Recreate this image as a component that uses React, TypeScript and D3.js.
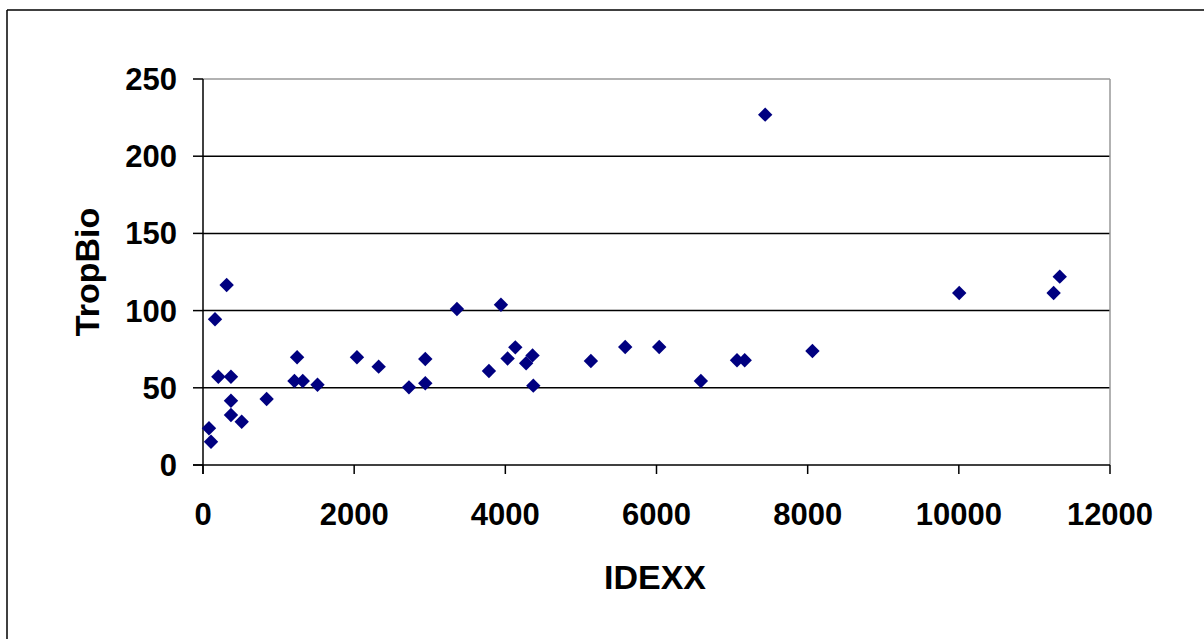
import React from "react";
import * as d3 from "d3";

const idexx = [79, 106, 159, 203, 313, 370, 370, 370, 512, 842, 1210, 1245, 1320, 1515, 2037, 2324, 2725, 2941, 2941, 3360, 3783, 3942, 4030, 4132, 4275, 4360, 4370, 5132, 5586, 6036, 6587, 7065, 7167, 7438, 8063, 10005, 11254, 11335];
const tropBio = [23.8, 15.1, 94.4, 57.2, 116.6, 57.2, 41.6, 32.4, 28, 42.7, 54.4, 69.8, 54.4, 52, 69.8, 63.7, 50.3, 68.7, 52.9, 101, 60.9, 103.8, 69, 76.2, 65.9, 71, 51.4, 67.4, 76.4, 76.4, 54.4, 67.8, 67.8, 226.9, 73.8, 111.4, 111.4, 122];
const xTicks = [0, 2000, 4000, 6000, 8000, 10000, 12000];
const yTicks = [0, 50, 100, 150, 200, 250];
const xTitle = "IDEXX";
const yTitle = "TropBio";

export default function App() {
  const W = 1204, H = 639;
  const left = 203, right = 1110, top = 79, bottom = 465;
  const x = d3.scaleLinear().domain([0, 12000]).range([left, right]);
  const y = d3.scaleLinear().domain([0, 250]).range([bottom, top]);
  const font = "'Liberation Sans', Arial, sans-serif";
  const diamond = "M0,-7.2L7.2,0L0,7.2L-7.2,0Z";
  return (
    <svg width={W} height={H} style={{ position: "absolute", left: 0, top: 0, background: "#fff" }}>
      <rect x={0} y={0} width={W} height={H} fill="#fff" />
      {/* outer chart border */}
      <line x1={7} y1={10} x2={W + 5} y2={10} stroke="#000" strokeWidth={1.5} />
      <line x1={7} y1={10} x2={7} y2={H + 5} stroke="#000" strokeWidth={1.5} />
      {/* gridlines */}
      {yTicks.filter(t => t > 0 && t < 250).map(t => (
        <line key={"g" + t} x1={left} x2={right} y1={y(t)} y2={y(t)} stroke="#000" strokeWidth={1.5} />
      ))}
      {/* plot area top/right border */}
      <line x1={left} x2={right} y1={y(250)} y2={y(250)} stroke="#999" strokeWidth={1.5} />
      <line x1={right} x2={right} y1={y(250)} y2={y(0)} stroke="#999" strokeWidth={1.5} />
      {/* axes */}
      <line x1={left} x2={left} y1={y(250)} y2={bottom + 9} stroke="#000" strokeWidth={1.5} />
      <line x1={left - 10} x2={right} y1={bottom} y2={bottom} stroke="#000" strokeWidth={1.5} />
      {yTicks.map(t => (
        <g key={"y" + t}>
          <line x1={left - 10} x2={left} y1={y(t)} y2={y(t)} stroke="#000" strokeWidth={1.5} />
          <text x={177} y={y(t) + 11} textAnchor="end" fontFamily={font} fontWeight="bold" fontSize={31}>{t}</text>
        </g>
      ))}
      {xTicks.map(t => (
        <g key={"x" + t}>
          <line x1={x(t)} x2={x(t)} y1={bottom} y2={bottom + 9} stroke="#000" strokeWidth={1.5} />
          <text x={x(t)} y={525} textAnchor="middle" fontFamily={font} fontWeight="bold" fontSize={31}>{t}</text>
        </g>
      ))}
      <text x={655} y={589} textAnchor="middle" fontFamily={font} fontWeight="bold" fontSize={34}>{xTitle}</text>
      <text transform="translate(99,272) rotate(-90)" textAnchor="middle" fontFamily={font} fontWeight="bold" fontSize={34}>{yTitle}</text>
      {idexx.map((v, i) => (
        <path key={"p" + i} d={diamond} transform={`translate(${x(v)},${y(tropBio[i])})`} fill="#000080" />
      ))}
    </svg>
  );
}
